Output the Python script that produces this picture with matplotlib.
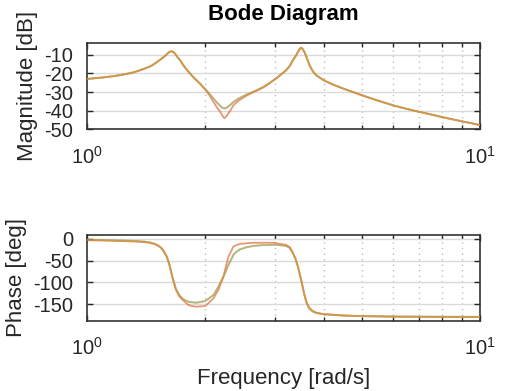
import matplotlib
matplotlib.use("Agg")
import matplotlib.pyplot as plt
from matplotlib.ticker import FixedLocator, NullFormatter

plt.rcParams['font.family'] = ['Liberation Sans', 'DejaVu Sans']
plt.rcParams['mathtext.fontset'] = 'custom'
plt.rcParams['mathtext.rm'] = 'Liberation Sans'
plt.rcParams['mathtext.it'] = 'Liberation Sans'
plt.rcParams['axes.unicode_minus'] = False

# ---- data ----
freq_mag = [1.000, 1.050, 1.100, 1.150, 1.195, 1.250, 1.318, 1.380, 1.453, 1.500,
            1.540, 1.570, 1.602, 1.620, 1.640, 1.660, 1.680, 1.698, 1.726, 1.759,
            1.790, 1.829, 1.880, 1.940, 2.000, 2.050, 2.098, 2.140, 2.182, 2.210,
            2.237, 2.270, 2.312, 2.360, 2.428, 2.551, 2.680, 2.811, 2.900, 3.000,
            3.100, 3.210, 3.280, 3.340, 3.390, 3.440, 3.480, 3.506, 3.530, 3.574,
            3.620, 3.682, 3.750, 3.828, 4.000, 4.200, 4.477, 5.000, 5.440, 6.000,
            6.500, 7.000, 7.500, 8.000, 8.500, 9.000, 9.500, 10.00]
mag_blue = [-23.0, -22.6, -22.2, -21.7, -21.2, -20.5, -19.4, -18.0, -16.2, -14.3,
            -12.5, -11.2, -9.5, -8.6, -8.2, -8.6, -9.8, -11.3, -13.0, -15.7,
            -17.8, -20.1, -22.8, -25.5, -28.5, -31.0, -33.5, -35.6, -37.4, -38.4,
            -38.8, -38.3, -37.0, -35.3, -33.5, -31.3, -29.4, -27.3, -25.5, -23.3,
            -21.0, -18.4, -16.0, -13.0, -11.0, -8.6, -6.8, -6.3, -6.8, -8.6,
            -11.5, -15.7, -18.8, -21.0, -23.7, -25.8, -28.1, -31.7, -34.3, -37.1,
            -39.0, -40.6, -42.0, -43.4, -44.6, -45.7, -46.7, -47.7]
mag_red = [-23.0, -22.6, -22.2, -21.7, -21.2, -20.5, -19.4, -18.0, -16.2, -14.3,
           -12.5, -11.2, -9.5, -8.6, -8.2, -8.6, -9.8, -11.3, -13.0, -15.7,
           -17.8, -20.1, -22.8, -25.6, -28.7, -31.8, -35.3, -38.2, -40.6, -42.6,
           -44.1, -42.6, -40.1, -37.0, -34.7, -31.8, -29.6, -27.5, -25.6, -23.4,
           -21.0, -18.4, -16.0, -13.0, -11.0, -8.6, -6.8, -6.3, -6.8, -8.6,
           -11.5, -15.7, -18.8, -21.0, -23.7, -25.8, -28.1, -31.7, -34.3, -37.1,
           -39.0, -40.6, -42.0, -43.4, -44.6, -45.7, -46.7, -47.7]
mag_yellow = [-23.0, -22.6, -22.2, -21.7, -21.2, -20.5, -19.4, -18.0, -16.2, -14.3,
              -12.5, -11.2, -9.5, -8.6, -8.2, -8.6, -9.8, -11.3, -13.0, -15.7,
              -17.8, -20.1, -22.8, -25.5, -28.5, -31.0, -33.5, -35.6, -37.4, -38.4,
              -38.8, -38.3, -37.0, -35.3, -33.5, -31.3, -29.4, -27.3, -25.5, -23.3,
              -21.0, -18.4, -16.0, -13.0, -11.0, -8.6, -6.8, -6.3, -6.8, -8.6,
              -11.5, -15.7, -18.8, -21.0, -23.7, -25.8, -28.1, -31.7, -34.3, -37.1,
              -39.0, -40.6, -42.0, -43.4, -44.6, -45.7, -46.7, -47.7]

freq_ph = [1.000, 1.100, 1.200, 1.318, 1.400, 1.453, 1.490, 1.525, 1.550, 1.571,
           1.595, 1.618, 1.649, 1.682, 1.716, 1.759, 1.811, 1.850, 1.903, 2.000,
           2.098, 2.160, 2.224, 2.257, 2.290, 2.358, 2.400, 2.453, 2.551, 2.651,
           2.800, 3.000, 3.030, 3.210, 3.280, 3.340, 3.390, 3.440, 3.506, 3.574,
           3.620, 3.680, 3.750, 3.830, 4.000, 4.480, 5.000, 6.000, 8.000, 10.00]
ph_blue = [-2.0, -2.8, -3.7, -4.6, -6.3, -8.5, -11.5, -16.0, -21.5, -29.0,
           -40.0, -56.0, -87.0, -114.0, -129.0, -139.0, -144.4, -145.8, -146.7, -142.9,
           -129.0, -110.0, -86.8, -73.5, -60.0, -36.9, -29.5, -23.8, -19.0, -16.1,
           -14.2, -13.5, -13.8, -16.0, -21.0, -33.0, -46.0, -64.0, -94.5, -129.0,
           -148.0, -161.0, -167.0, -170.5, -173.3, -176.2, -177.6, -178.5, -179.0, -179.3]
ph_red = [-3.0, -3.8, -4.7, -5.8, -7.5, -9.5, -12.5, -17.0, -22.5, -30.0,
          -41.0, -57.0, -88.0, -116.0, -132.0, -142.0, -152.0, -154.5, -156.0, -154.4,
          -136.7, -117.0, -86.8, -63.0, -40.7, -17.7, -14.0, -11.5, -10.0, -9.0,
          -8.8, -9.0, -10.0, -13.8, -19.0, -32.0, -45.0, -63.0, -94.5, -129.0,
          -146.0, -159.0, -165.5, -169.8, -173.0, -176.2, -177.8, -179.0, -179.6, -179.8]
ph_yellow = [-2.0, -2.8, -3.7, -4.6, -6.3, -8.5, -11.5, -16.0, -21.5, -29.0,
             -40.0, -56.0, -87.0, -114.0, -129.0, -139.0, -144.4, -145.8, -146.7, -142.9,
             -129.0, -110.0, -86.8, -73.5, -60.0, -36.9, -29.5, -23.8, -19.0, -16.1,
             -14.2, -13.5, -13.8, -16.0, -21.0, -33.0, -46.0, -64.0, -94.5, -129.0,
             -148.0, -161.0, -167.0, -170.5, -173.3, -176.2, -177.6, -178.5, -179.0, -179.3]

mag_ticks = [-50, -40, -30, -20, -10]
ph_ticks = [-150, -100, -50, 0]
col_blue = '#0072bd'
col_red = '#d95319'
col_yellow = '#edb120'
txt = '#262626'

fig = plt.figure(figsize=(5.3, 3.91), dpi=100)
ax1 = fig.add_axes([0.164, 0.669, 0.742, 0.220])
ax2 = fig.add_axes([0.164, 0.180, 0.742, 0.219])

for ax, f, b, r, y in ((ax1, freq_mag, mag_blue, mag_red, mag_yellow),
                       (ax2, freq_ph, ph_blue, ph_red, ph_yellow)):
    ax.plot(f, b, color=col_blue, lw=1.3, alpha=0.5, zorder=3)
    ax.plot(f, r, color=col_red, lw=1.3, alpha=0.6, zorder=4)
    ax.plot(f, y, color=col_yellow, lw=1.3, alpha=0.55, zorder=5)

ax1.set_ylim(-50, -4)
ax2.set_ylim(-188, 9)
ax1.set_yticks(mag_ticks)
ax2.set_yticks(ph_ticks)

for ax in (ax1, ax2):
    ax.set_xscale('log')
    ax.set_xlim(1, 10)
    ax.xaxis.set_major_locator(FixedLocator([1, 10]))
    ax.xaxis.set_minor_locator(FixedLocator([2, 3, 4, 5, 6, 7, 8, 9]))
    ax.xaxis.set_minor_formatter(NullFormatter())
    ax.grid(True, which='major', axis='y', color='#dadada', lw=1.0, ls='-', zorder=0)
    ax.grid(True, which='minor', axis='x', color='#bdbdbd', lw=1.0, ls=(0, (1, 3)), zorder=0)
    ax.tick_params(which='both', direction='in', top=True, right=True,
                   colors='#262626', labelcolor=txt, labelsize=14.5, width=1.0)
    ax.tick_params(which='major', length=4, pad=10)
    ax.tick_params(which='minor', length=3)
    ax.tick_params(axis='x', which='major', pad=12)
    for s in ax.spines.values():
        s.set_color('#333333')
        s.set_linewidth(1.2)
    ax.set_axisbelow(True)

ax1.set_xticklabels([r'$10^{0}$', r'$10^{1}$'])
ax2.set_xticklabels([r'$10^{0}$', r'$10^{1}$'])

ax1.set_title('Bode Diagram', fontsize=16, fontweight='bold', color='black', pad=17)
ax1.set_ylabel('Magnitude [dB]', fontsize=16, color=txt)
ax2.set_ylabel('Phase [deg]', fontsize=16, color=txt)
ax2.set_xlabel('Frequency [rad/s]', fontsize=16, color=txt, labelpad=6)
fig.align_ylabels([ax1, ax2])

fig.savefig('out.png', dpi=100)
